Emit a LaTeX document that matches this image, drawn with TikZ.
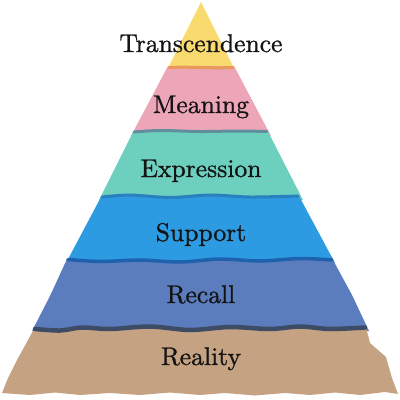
\documentclass[tikz,border=0pt]{standalone}
\usepackage{fontspec}
\font\lblfnt="[lmroman10-regular.otf]:embolden=1.0" at 25.6pt
\begin{document}
\begin{tikzpicture}[x=1pt,y=-1pt,
  lbl/.style={anchor=base,font=\lblfnt,text=black!92,inner sep=0pt},
  band/.style={line cap=round,line join=round}]
\definecolor{cYel}{HTML}{F8DA6E}
\definecolor{cOra}{HTML}{E9975A}
\definecolor{cPink}{HTML}{EDA5B8}
\definecolor{cPinkB}{HTML}{5F8E9C}
\definecolor{cTeal}{HTML}{6DD0BF}
\definecolor{cTealB}{HTML}{2A7FBF}
\definecolor{cBlue}{HTML}{2D9BE2}
\definecolor{cBlueB}{HTML}{1E62AE}
\definecolor{cRec}{HTML}{5B7DBD}
\definecolor{cRecB}{HTML}{3D4C64}
\definecolor{cTan}{HTML}{C5A382}
\useasboundingbox (0,0) rectangle (400,400);
% yellow
\fill[cYel] (201,2) -- (236,72) -- (166,72) -- cycle;
% pink
\fill[cPink] (168,66) -- (234,66) -- (271,136) -- (131,136) -- cycle;
\draw[band,cOra,line width=3pt] (169,67.5) .. controls (190,66.5) and (210,68.5) .. (233,67.5);
% teal
\fill[cTeal] plot[smooth] coordinates {(133,132) (160,130.5) (200,131.5) (240,131) (268,131.5)}
  -- (303,200) -- (99,200) -- cycle;
\draw[band,cPinkB,line width=3pt] plot[smooth] coordinates {(134,132) (160,130.5) (200,131.5) (240,131) (267,131.5)};
% support
\fill[cBlue] plot[smooth] coordinates {(101,197) (130,195) (170,197.5) (210,195) (250,197) (299,196)}
  -- (335,263) -- (66,263) -- cycle;
\draw[band,cTealB,line width=3pt] plot[smooth] coordinates {(102,197) (130,195) (170,197.5) (210,195) (250,197) (298,196)};
% recall
\fill[cRec] plot[smooth] coordinates {(67,259) (100,261.5) (140,260) (180,262) (220,259) (260,261) (300,258.5) (333,260)}
  -- (352,295) -- (369,331) -- (32,331) -- (50,296) -- cycle;
\draw[band,cBlueB,line width=3.5pt] plot[smooth] coordinates {(68,259.5) (100,261.5) (140,260) (180,262) (220,259) (260,261) (300,258.5) (332,260)};
% reality
\fill[cTan] plot[smooth] coordinates {(34,329) (60,330.5) (82,327.5) (110,329) (150,326.5) (190,330) (230,327) (270,329) (300,326.5) (330,329) (366,327.5)}
  -- (370,343) -- (386,357) -- (392,378) -- (398,394)
  -- (385,392) -- (360,395) -- (335,392.5) -- (310,395) -- (285,393) -- (255,395.5) -- (225,393) -- (200,395) -- (170,392.5)
  -- (140,395) -- (110,393) -- (80,395) -- (55,392.5) -- (30,395) -- (2,393)
  -- (8,378) -- (17,360) -- (22,351) -- (28,340) -- cycle;
\draw[band,cRecB,line width=4.5pt] plot[smooth] coordinates {(35,329) (60,330.5) (82,327.5) (110,329) (150,326.5) (190,330) (230,327) (270,329) (300,326.5) (330,329) (365,327.5)};
% labels
\node[lbl] (t1) at (201,52) {Transcendence};
\node[lbl] (t2) at (201,113) {Meaning};
\node[lbl] (t3) at (201,177) {Expression};
\node[lbl] (t4) at (201,241) {Support};
\node[lbl] (t5) at (201,303) {Recall};
\node[lbl] (t6) at (201,365) {Reality};
\end{tikzpicture}
\end{document}
